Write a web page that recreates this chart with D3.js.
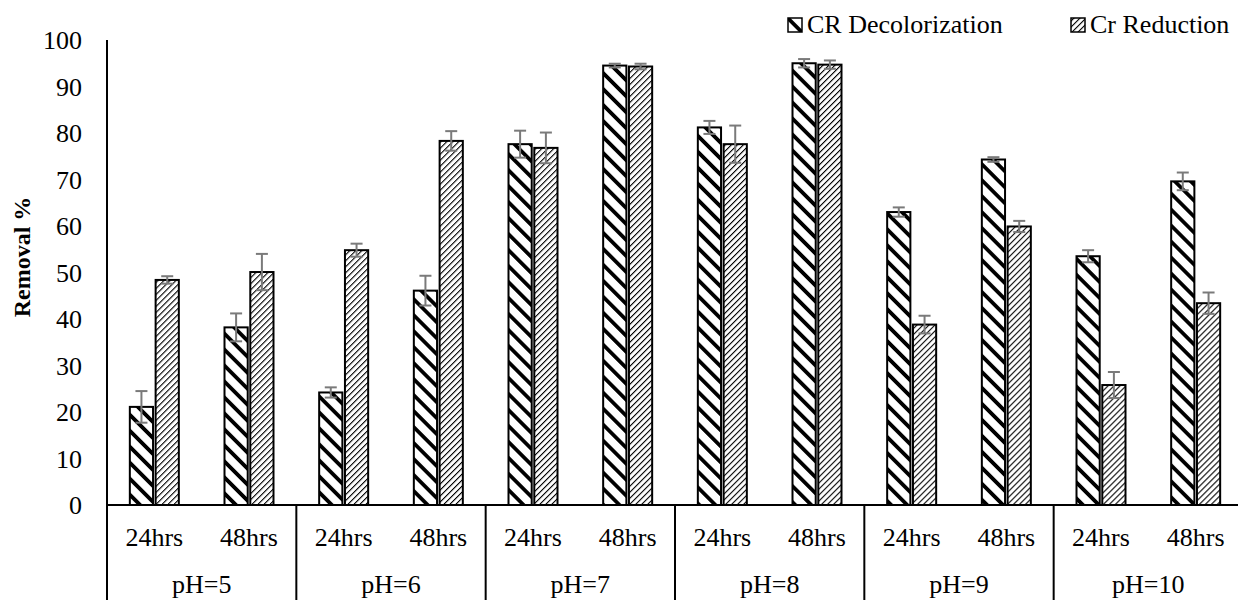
<!DOCTYPE html>
<html>
<head>
<meta charset="utf-8">
<script src="https://cdn.jsdelivr.net/npm/d3@7"></script>
<style>
  html, body { margin: 0; padding: 0; background: #fff; }
</style>
</head>
<body>
<svg id="chart" width="1238" height="600"></svg>
<script>
// pH groups and incubation times
const phGroups = ["pH=5", "pH=6", "pH=7", "pH=8", "pH=9", "pH=10"];
const times = ["24hrs", "48hrs"];
const seriesNames = ["CR Decolorization", "Cr Reduction"];

// Removal % per (pH, time), ordered pH=5 24hrs, pH=5 48hrs, pH=6 24hrs, ...
const crDecolorization = [21.1, 38.2, 24.2, 46.1, 77.6, 94.5, 81.2, 95.0, 63.0, 74.3, 53.5, 69.6];
const crDecolorizationErr = [3.4, 3.0, 1.1, 3.2, 2.9, 0.4, 1.4, 0.9, 1.0, 0.5, 1.3, 1.9];
const crReduction = [48.4, 50.1, 54.8, 78.3, 76.8, 94.3, 77.6, 94.7, 38.8, 59.9, 25.8, 43.4];
const crReductionErr = [0.8, 3.9, 1.4, 2.1, 3.3, 0.6, 4.0, 0.9, 1.9, 1.2, 2.8, 2.3];

const yTicks = [0, 10, 20, 30, 40, 50, 60, 70, 80, 90, 100];

const FONT = "'Liberation Serif', Tinos, 'Times New Roman', 'DejaVu Serif', serif";

const svg = d3.select("#chart").attr("font-family", FONT);
const plot = { left: 107, right: 1243, top: 40, bottom: 505 };

// patterns: wide downward diagonal and dense upward diagonal
const defs = svg.append("defs");
const p1 = defs.append("pattern")
  .attr("id", "patWide").attr("patternUnits", "userSpaceOnUse")
  .attr("width", 11.3).attr("height", 11.3)
  .attr("patternTransform", "rotate(-45)");
p1.append("rect").attr("width", 11.3).attr("height", 11.3).attr("fill", "#fff");
p1.append("rect").attr("x", 0).attr("width", 3.8).attr("height", 11.3).attr("fill", "#000");

const p2 = defs.append("pattern")
  .attr("id", "patDense").attr("patternUnits", "userSpaceOnUse")
  .attr("width", 4.24).attr("height", 4.24)
  .attr("patternTransform", "rotate(45)");
p2.append("rect").attr("width", 4.24).attr("height", 4.24).attr("fill", "#fff");
p2.append("rect").attr("x", 0).attr("width", 1.1).attr("height", 4.24).attr("fill", "#000");

const fills = ["url(#patWide)", "url(#patDense)"];

// build rows from the arrays
const rows = [];
phGroups.forEach((g, gi) => {
  times.forEach((t, ti) => {
    const i = gi * times.length + ti;
    rows.push({
      key: g + "|" + t, group: g, time: t,
      values: [
        { s: 0, v: crDecolorization[i], e: crDecolorizationErr[i] },
        { s: 1, v: crReduction[i], e: crReductionErr[i] }
      ]
    });
  });
});

const x = d3.scaleBand().domain(rows.map(d => d.key)).range([plot.left, plot.right]).padding(0);
const xGroup = d3.scaleBand().domain(phGroups).range([plot.left, plot.right]).padding(0);
const pairW = 49;
const xSeries = d3.scaleBand().domain([0, 1]).range([0, pairW]).paddingInner(0.1);
const y = d3.scaleLinear().domain([0, 100]).range([plot.bottom, plot.top]);

// y tick labels
svg.append("g").selectAll("text").data(yTicks).join("text")
  .attr("x", 82).attr("y", d => y(d)).attr("dy", "0.35em")
  .attr("text-anchor", "end").attr("font-size", 26).attr("fill", "#000")
  .text(d => d);

// axis title
svg.append("text")
  .attr("transform", "translate(22,257) rotate(-90)")
  .attr("text-anchor", "middle").attr("dy", "0.35em")
  .attr("font-size", 24).attr("font-weight", "bold")
  .text("Removal %");

// bars
const barG = svg.append("g");
rows.forEach(r => {
  const x0 = x(r.key) + x.bandwidth() / 2 - pairW / 2;
  r.values.forEach(d => {
    barG.append("rect")
      .attr("x", x0 + xSeries(d.s))
      .attr("y", y(d.v))
      .attr("width", xSeries.bandwidth())
      .attr("height", y(0) - y(d.v))
      .attr("fill", fills[d.s])
      .attr("stroke", "#000").attr("stroke-width", 2);
  });
});

// error bars
const errG = svg.append("g").attr("stroke", "#7a7a7a").attr("stroke-width", 2).attr("fill", "none");
rows.forEach(r => {
  const x0 = x(r.key) + x.bandwidth() / 2 - pairW / 2;
  r.values.forEach(d => {
    const cx = x0 + xSeries(d.s) + xSeries.bandwidth() / 2;
    errG.append("line").attr("x1", cx).attr("x2", cx).attr("y1", y(d.v + d.e)).attr("y2", y(d.v - d.e));
    errG.append("line").attr("x1", cx - 6).attr("x2", cx + 6).attr("y1", y(d.v + d.e)).attr("y2", y(d.v + d.e));
    errG.append("line").attr("x1", cx - 6).attr("x2", cx + 6).attr("y1", y(d.v - d.e)).attr("y2", y(d.v - d.e));
  });
});

// axes lines
const axisG = svg.append("g").attr("stroke", "#000").attr("stroke-width", 2);
axisG.append("line").attr("x1", plot.left).attr("x2", plot.left).attr("y1", plot.top).attr("y2", 600);
axisG.append("line").attr("x1", plot.left).attr("x2", 1238).attr("y1", plot.bottom).attr("y2", plot.bottom);
phGroups.slice(1).forEach(g => {
  axisG.append("line").attr("x1", xGroup(g)).attr("x2", xGroup(g)).attr("y1", plot.bottom).attr("y2", 600);
});

// category labels
svg.append("g").selectAll("text").data(rows).join("text")
  .attr("x", d => x(d.key) + x.bandwidth() / 2).attr("y", 546)
  .attr("text-anchor", "middle").attr("font-size", 26)
  .text(d => d.time);
svg.append("g").selectAll("text").data(phGroups).join("text")
  .attr("x", d => xGroup(d) + xGroup.bandwidth() / 2).attr("y", 593)
  .attr("text-anchor", "middle").attr("font-size", 26)
  .text(d => d);

// legend
const legendX = [788, 1071];
const legend = svg.append("g");
seriesNames.forEach((name, i) => {
  legend.append("rect").attr("x", legendX[i]).attr("y", 18)
    .attr("width", 14).attr("height", 14)
    .attr("fill", fills[i]).attr("stroke", "#000").attr("stroke-width", 1.5);
  legend.append("text").attr("x", legendX[i] + 19).attr("y", 33)
    .attr("font-size", 26).text(name);
});
</script>
</body>
</html>
